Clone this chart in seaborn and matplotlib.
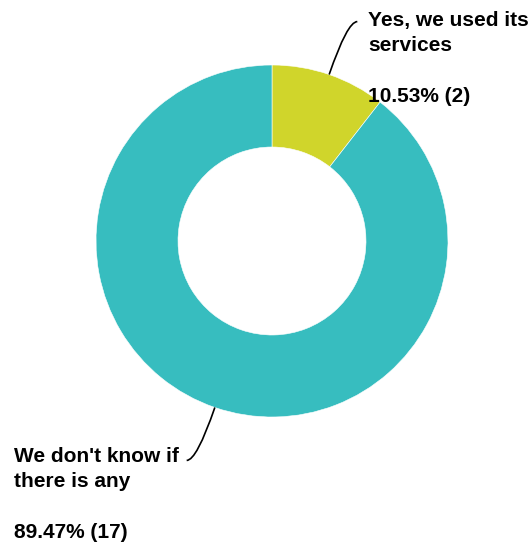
import numpy as np
import matplotlib
matplotlib.use("Agg")
from matplotlib import pyplot as plt
from matplotlib.path import Path
from matplotlib.patches import PathPatch
import seaborn as sns

labels = ["Yes, we used its\nservices", "We don't know if\nthere is any"]
counts = [2, 17]
colors = ["#D0D52B", "#37BDBF"]

sns.set_theme(style="white")
plt.rcParams['font.family'] = ['Liberation Sans', 'DejaVu Sans']

W, H = 529, 548
fig = plt.figure(figsize=(W / 100, H / 100), dpi=100)
ax = fig.add_axes([0, 0, 1, 1])

# donut geometry in pixel units (y flipped)
cx, cy = 272, H - 241
r_out, r_in = 176, 94

wedges, _ = ax.pie(counts, colors=colors, startangle=90, counterclock=False,
                   radius=r_out, center=(cx, cy),
                   wedgeprops=dict(width=r_out - r_in, edgecolor='white', linewidth=0.4))
ax.set_xlim(0, W)
ax.set_ylim(0, H)
ax.set_aspect('equal')
ax.axis('off')

total = sum(counts)
# label text positions (left, top)
text_pos = [(368, H - 11), (14, H - 447)]
side = [1, -1]
for i, w in enumerate(wedges):
    ang = np.deg2rad((w.theta1 + w.theta2) / 2)
    p0 = (cx + r_out * np.cos(ang), cy + r_out * np.sin(ang))
    r2 = 232
    p1 = (cx + r2 * np.cos(ang), cy + r2 * np.sin(ang))
    p2 = (p1[0] + 10 * side[i], p1[1])
    path = Path([p0, p1, p2], [Path.MOVETO, Path.CURVE3, Path.CURVE3])
    ax.add_patch(PathPatch(path, fill=False, color='black', lw=1.2))
    pct = counts[i] / total * 100
    txt = f"{labels[i]}\n\n{pct:.2f}% ({counts[i]})"
    ax.text(text_pos[i][0], text_pos[i][1], txt, ha='left', va='top',
            fontsize=15, fontweight='bold', color='black', linespacing=1.42)

fig.savefig("out.png", dpi=100)
